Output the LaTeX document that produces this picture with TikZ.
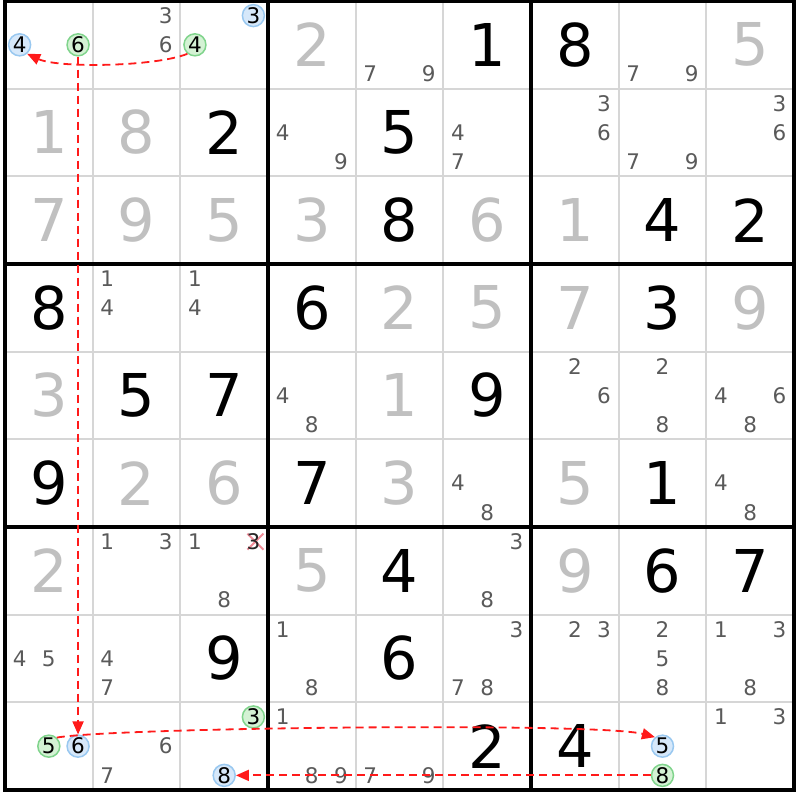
\documentclass[tikz,border=0pt]{standalone}
\usepackage{fontspec}
\setmainfont{DejaVu Sans}
\usetikzlibrary{arrows.meta}
\definecolor{givgray}{HTML}{C0C0C0}
\definecolor{candgray}{HTML}{5A5A5A}
\definecolor{thingray}{HTML}{D6D6D6}
\definecolor{bfill}{HTML}{D6E8FA}
\definecolor{bdraw}{HTML}{99C8F0}
\definecolor{gfill}{HTML}{D4F2D4}
\definecolor{gdraw}{HTML}{80D48C}
\definecolor{arrred}{HTML}{FF1A1A}
\definecolor{xpink}{HTML}{F08C98}
\newcommand\giv[4][givgray]{\node[big,text=#1] (v#2#3) at ({#3-0.5},{9.5-#2}) {#4};}
\newcommand\cand[4][]{\node[cand,#1] (n#2#3#4) at ({#3-0.5+(mod(#4-1,3)-1)/3},{9.5-#2-(floor((#4-1)/3)-1)/3}) {#4};}
\begin{document}
\begin{tikzpicture}[x=87.667pt,y=87.667pt,
  big/.style={font=\fontsize{59}{60}\selectfont, inner sep=0pt},
  cand/.style={font=\fontsize{21.5}{23}\selectfont, text=candgray, inner sep=0pt},
  bc/.style={circle, draw=bdraw, fill=bfill, line width=1.5pt, minimum size=22pt, text=black},
  gc/.style={circle, draw=gdraw, fill=gfill, line width=1.5pt, minimum size=22pt, text=black},
  arr/.style={draw=arrred, line width=1.8pt, dash pattern=on 8pt off 5pt, -{Triangle[length=13pt,width=11pt]}},
  xmark/.style={draw=xpink, line width=2pt}]
\useasboundingbox (-5pt,-10pt) rectangle (795pt,790pt);
\fill[white] (-5pt,-10pt) rectangle (795pt,790pt);
% grid
\draw[line width=2pt, thingray] (0,0) grid[step=1] (9,9);
\draw[line width=3.3pt] (3,0) -- (3,9) (6,0) -- (6,9) (0,3) -- (9,3) (0,6) -- (9,6);
\draw[line width=3.3pt, line join=miter] (0,0) rectangle (9,9);
% givens (gray)
\giv{1}{4}{2} \giv{1}{9}{5}
\giv{2}{1}{1} \giv{2}{2}{8}
\giv{3}{1}{7} \giv{3}{2}{9} \giv{3}{3}{5} \giv{3}{4}{3} \giv{3}{6}{6} \giv{3}{7}{1}
\giv{4}{5}{2} \giv{4}{6}{5} \giv{4}{7}{7} \giv{4}{9}{9}
\giv{5}{1}{3} \giv{5}{5}{1}
\giv{6}{2}{2} \giv{6}{3}{6} \giv{6}{5}{3} \giv{6}{7}{5}
\giv{7}{1}{2} \giv{7}{4}{5} \giv{7}{7}{9}
% placed (black)
\giv[black]{1}{6}{1} \giv[black]{1}{7}{8}
\giv[black]{2}{3}{2} \giv[black]{2}{5}{5}
\giv[black]{3}{5}{8} \giv[black]{3}{8}{4} \giv[black]{3}{9}{2}
\giv[black]{4}{1}{8} \giv[black]{4}{4}{6} \giv[black]{4}{8}{3}
\giv[black]{5}{2}{5} \giv[black]{5}{3}{7} \giv[black]{5}{6}{9}
\giv[black]{6}{1}{9} \giv[black]{6}{4}{7} \giv[black]{6}{8}{1}
\giv[black]{7}{5}{4} \giv[black]{7}{8}{6} \giv[black]{7}{9}{7}
\giv[black]{8}{3}{9} \giv[black]{8}{5}{6}
\giv[black]{9}{6}{2} \giv[black]{9}{7}{4}
% candidates
\cand[bc]{1}{1}{4} \cand[gc]{1}{1}{6}
\cand{1}{2}{3} \cand{1}{2}{6}
\cand[bc]{1}{3}{3} \cand[gc]{1}{3}{4}
\cand{1}{5}{7} \cand{1}{5}{9}
\cand{1}{8}{7} \cand{1}{8}{9}
\cand{2}{4}{4} \cand{2}{4}{9}
\cand{2}{6}{4} \cand{2}{6}{7}
\cand{2}{7}{3} \cand{2}{7}{6}
\cand{2}{8}{7} \cand{2}{8}{9}
\cand{2}{9}{3} \cand{2}{9}{6}
\cand{4}{2}{1} \cand{4}{2}{4}
\cand{4}{3}{1} \cand{4}{3}{4}
\cand{5}{4}{4} \cand{5}{4}{8}
\cand{5}{7}{2} \cand{5}{7}{6}
\cand{5}{8}{2} \cand{5}{8}{8}
\cand{5}{9}{4} \cand{5}{9}{6} \cand{5}{9}{8}
\cand{6}{6}{4} \cand{6}{6}{8}
\cand{6}{9}{4} \cand{6}{9}{8}
\cand{7}{2}{1} \cand{7}{2}{3}
\draw[xmark] (2.8333,2.8333) ++(2pt,0) +(-8pt,-8pt) -- +(8pt,8pt) +(-8pt,8pt) -- +(8pt,-8pt);
\cand{7}{3}{1} \cand[text=black!85]{7}{3}{3} \cand{7}{3}{8}
\cand{7}{6}{3} \cand{7}{6}{8}
\cand{8}{1}{4} \cand{8}{1}{5}
\cand{8}{2}{4} \cand{8}{2}{7}
\cand{8}{4}{1} \cand{8}{4}{8}
\cand{8}{6}{3} \cand{8}{6}{7} \cand{8}{6}{8}
\cand{8}{7}{2} \cand{8}{7}{3}
\cand{8}{8}{2} \cand{8}{8}{5} \cand{8}{8}{8}
\cand{8}{9}{1} \cand{8}{9}{3} \cand{8}{9}{8}
\cand[gc]{9}{1}{5} \cand[bc]{9}{1}{6}
\cand{9}{2}{6} \cand{9}{2}{7}
\cand[gc]{9}{3}{3} \cand[bc]{9}{3}{8}
\cand{9}{4}{1} \cand{9}{4}{8} \cand{9}{4}{9}
\cand{9}{5}{7} \cand{9}{5}{9}
\cand[bc]{9}{8}{5} \cand[gc]{9}{8}{8}
\cand{9}{9}{1} \cand{9}{9}{3}
% links
\draw[arr] (n134.230) to[out=202,in=-25,looseness=0.55] (n114.310);
\draw[arr] (n116) -- (n916);
\draw[arr] (n915.47) to[out=10,in=165,looseness=0.25] (n985.130);
\draw[arr] (n988) -- (n938);
\end{tikzpicture}
\end{document}
